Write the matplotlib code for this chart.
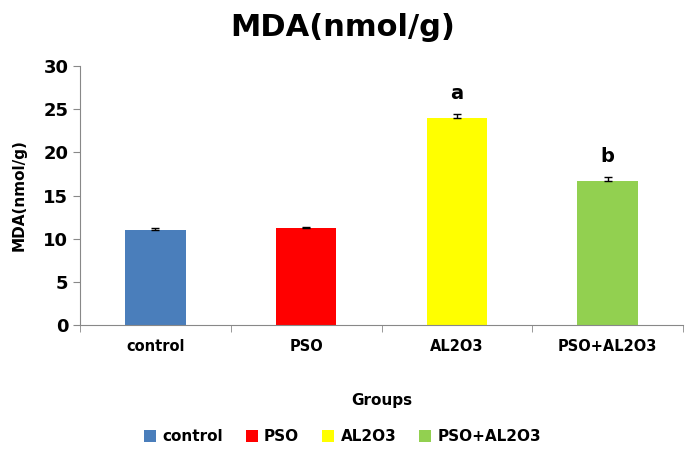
import numpy as np
import matplotlib
matplotlib.use("Agg")
import matplotlib.pyplot as plt
from matplotlib.patches import Patch

# datos
grupos = ["control", "PSO", "AL2O3", "PSO+AL2O3"]
valores = [10.95, 11.2, 24.0, 16.7]
errores = [0.25, 0.15, 0.4, 0.4]
letras = ["", "", "a", "b"]
colores = ["#4a7ebb", "#ff0000", "#ffff00", "#92d050"]

plt.rcParams['font.family'] = ['DejaVu Sans']
plt.rcParams['font.weight'] = 'bold'

fig = plt.figure(figsize=(6.85, 4.5), dpi=100)
ax = fig.add_axes([0.117, 0.278, 0.88, 0.575])

x = np.arange(len(grupos))
# solo la mitad superior de la barra de error
yerr = [np.zeros(len(errores)), errores]
ax.bar(x, valores, width=0.4, color=colores, yerr=yerr,
       error_kw=dict(ecolor="black", elinewidth=1, capsize=3, capthick=1))

for xi, v, e, l in zip(x, valores, errores, letras):
    if l:
        ax.text(xi, v + e + 1.3, l, ha="center", va="bottom", fontsize=14, fontweight="bold")

ax.set_xlim(-0.5, len(grupos) - 0.5)
ax.set_ylim(0, 30)
ax.set_yticks(range(0, 31, 5))
ax.set_xticks(x)
ax.set_xticklabels(grupos, fontsize=10.5, fontweight="bold")
ax.set_xticks(np.arange(-0.5, len(grupos), 1), minor=True)
ax.tick_params(axis="x", which="major", length=0, pad=10)
ax.tick_params(axis="x", which="minor", length=5, color="#888888", direction="out")
ax.tick_params(axis="y", length=5, color="#888888", labelsize=13)
for t in ax.get_yticklabels():
    t.set_fontweight("bold")

for s in ["top", "right"]:
    ax.spines[s].set_visible(False)
for s in ["left", "bottom"]:
    ax.spines[s].set_color("#888888")

ax.set_ylabel("MDA(nmol/g)", fontsize=11, fontweight="bold", labelpad=12)
ax.set_xlabel("Groups", fontsize=11, fontweight="bold", labelpad=28)
fig.suptitle("MDA(nmol/g)", fontsize=22, fontweight="bold", y=0.97)

handles = [Patch(facecolor=c, label=g) for c, g in zip(colores, grupos)]
fig.legend(handles=handles, loc="center", bbox_to_anchor=(0.5, 0.03), ncol=4,
           frameon=False, fontsize=11, handlelength=0.8, handleheight=0.8,
           handletextpad=0.4, columnspacing=1.5)

fig.savefig("out.png", dpi=100)
